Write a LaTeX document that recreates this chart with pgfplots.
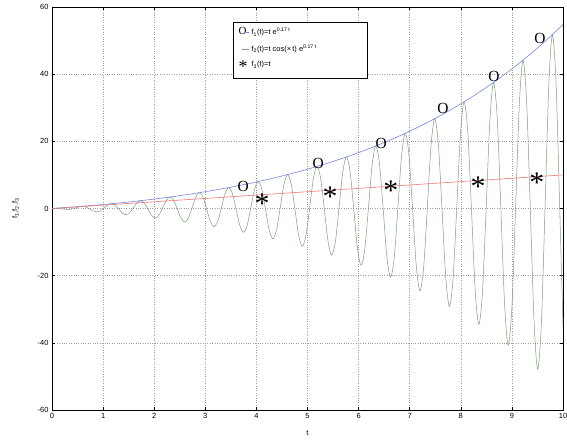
\documentclass[border=0pt]{standalone}
\usepackage{fontspec}
\setmainfont{Liberation Sans}
\newfontfamily\timesf{Liberation Serif}
\usepackage{pgfplots}
\pgfplotsset{compat=1.18}
\definecolor{fblue}{RGB}{120,135,225}
\definecolor{fred}{RGB}{235,120,120}
\definecolor{fgreen}{RGB}{120,160,120}
\begin{document}
\begin{tikzpicture}
\useasboundingbox (-52bp,-30bp) rectangle (515bp,410bp);
\begin{axis}[at={(0,0)}, anchor=south west, scale only axis, width=511bp, height=403bp,
  xmin=0, xmax=10, ymin=-60, ymax=60,
  xtick={0,1,...,10}, ytick={-60,-40,...,60},
  grid=major, grid style={dotted, gray!75, line width=0.5bp},
  tick align=inside, major tick length=3bp,
  /pgf/number format/assume math mode=true,
  tick label style={font=\fontsize{7.5}{8}\selectfont},
  label style={font=\fontsize{7.5}{8}\selectfont},
  xlabel={t}, ylabel={f\textsubscript{1},f\textsubscript{2},f\textsubscript{3}},
  xlabel style={yshift=-5bp},
  ylabel style={yshift=12bp},
  axis line style={black, line width=0.6bp},
  every tick/.style={black, line width=0.5bp},
  legend style={at={(rel axis cs:0.354,0.963)}, anchor=north west,
    font=\fontsize{7.5}{8}\selectfont, draw=black, line width=0.5bp,
    inner xsep=2bp, inner ysep=4bp, row sep=4.5bp, cells={anchor=west}},
  legend cell align=left,
]
\addlegendimage{legend image code/.code={\path (0bp,0) (14bp,0);
  \node[black, inner sep=0pt, font=\timesf\fontsize{11}{11}\selectfont] at (3bp,0.5bp) {O};
  \draw[fblue, line width=0.5bp] (9bp,0) -- (14bp,0);}}
\addlegendentry{f\textsubscript{1}(t)=t e\textsuperscript{0.17 t}}
\addlegendimage{legend image code/.code={\path (0bp,0) (14bp,0);
  \draw[fgreen, line width=0.5bp] (7bp,0) -- (14bp,0);}}
\addlegendentry{\makebox[112bp][l]{f\textsubscript{2}(t)=t cos(\texttimes{}\,t) e\textsuperscript{0.17 t}}}
\addlegendimage{legend image code/.code={\path (0bp,0) (14bp,0);
  \node[black, inner sep=0pt, font=\timesf\fontsize{18}{18}\selectfont] at (3bp,-3bp) {*};}}
\addlegendentry{f\textsubscript{3}(t)=t}

% f2: t e^{0.17t} cos(wt)
\addplot[fgreen, line width=0.5bp, smooth, forget plot] coordinates {
(0,0) (0.072,0.052) (0.144,0) (0.216,-0.158) (0.288,-0.302) (0.360,-0.271) (0.432,0) (0.504,0.388)
(0.576,0.635) (0.648,0.512) (0.720,0) (0.792,-0.641) (0.864,-1.001) (0.936,-0.776) (1.008,0) (1.080,0.918)
(1.152,1.401) (1.224,1.066) (1.296,0) (1.368,-1.221) (1.440,-1.839) (1.512,-1.383) (1.584,0) (1.656,1.552)
(1.728,2.318) (1.800,1.728) (1.872,0) (1.944,-1.913) (2.016,-2.840) (2.088,-2.106) (2.160,0) (2.232,2.307)
(2.304,3.409) (2.376,2.516) (2.448,0) (2.520,-2.735) (2.592,-4.027) (2.664,-2.963) (2.736,0) (2.808,3.200)
(2.880,4.699) (2.952,3.448) (3.024,0) (3.096,-3.706) (3.168,-5.429) (3.240,-3.974) (3.312,0) (3.384,4.254)
(3.456,6.219) (3.528,4.545) (3.600,0) (3.672,-4.847) (3.744,-7.076) (3.816,-5.162) (3.888,0) (3.960,5.490)
(4.032,8.002) (4.104,5.830) (4.176,0) (4.248,-6.185) (4.320,-9.004) (4.392,-6.553) (4.464,0) (4.536,6.935)
(4.608,10.086) (4.680,7.333) (4.752,0) (4.824,-7.746) (4.896,-11.254) (4.968,-8.174) (5.040,0) (5.112,8.620)
(5.184,12.514) (5.256,9.082) (5.328,0) (5.400,-9.562) (5.472,-13.872) (5.544,-10.061) (5.616,0) (5.688,10.578)
(5.760,15.335) (5.832,11.114) (5.904,0) (5.976,-11.671) (6.048,-16.910) (6.120,-12.248) (6.192,0) (6.264,12.847)
(6.336,18.604) (6.408,13.468) (6.480,0) (6.552,-14.112) (6.624,-20.426) (6.696,-14.780) (6.768,0) (6.840,15.472)
(6.912,22.383) (6.984,16.189) (7.056,0) (7.128,-16.932) (7.200,-24.486) (7.272,-17.702) (7.344,0) (7.416,18.500)
(7.488,26.743) (7.560,19.327) (7.632,0) (7.704,-20.183) (7.776,-29.165) (7.848,-21.070) (7.920,0) (7.992,21.988)
(8.064,31.763) (8.136,22.939) (8.208,0) (8.280,-23.924) (8.352,-34.548) (8.424,-24.943) (8.496,0) (8.568,25.998)
(8.640,37.533) (8.712,27.090) (8.784,0) (8.856,-28.221) (8.928,-40.730) (9.000,-29.390) (9.072,0) (9.144,30.601)
(9.216,44.154) (9.288,31.853) (9.360,0) (9.432,-33.148) (9.504,-47.819) (9.576,-34.488) (9.648,0) (9.720,35.875)
(9.792,51.740) (9.864,37.309) (9.936,0) (10.0,-35.2)
};
% f1: t e^{0.17t}
\addplot[fblue, line width=0.6bp, smooth, forget plot] coordinates {
(0,0) (0.5,0.544) (1,1.185) (1.5,1.936) (2,2.810) (2.5,3.824) (3,4.996) (3.5,6.346) (4,7.896)
(4.5,9.670) (5,11.698) (5.5,14.010) (6,16.639) (6.5,19.625) (7,23.010) (7.5,26.841) (8,31.170)
(8.5,36.056) (9,41.564) (9.5,47.767) (10,54.739)
};
% f3: t
\addplot[fred, line width=0.6bp, forget plot] coordinates {(0,0) (10,10)};
% text markers
\addplot[only marks, mark=text, text mark={O}, text mark as node=true,
  text mark style={font=\timesf\fontsize{15.5}{16}\selectfont, inner sep=0pt}, mark options={black}, forget plot]
  coordinates {(3.74,6.6) (5.21,13.4) (6.44,19.3) (7.65,29.8) (8.65,39.3) (9.55,50.6)};
\addplot[only marks, mark=text, text mark={*}, text mark as node=true,
  text mark style={font=\timesf\fontsize{30}{30}\selectfont, inner sep=0pt, yshift=-6bp}, mark options={black}, forget plot]
  coordinates {(4.11,3.3) (5.44,5.4) (6.63,7.1) (8.34,8.3) (9.49,9.5)};
\end{axis}
\end{tikzpicture}
\end{document}
